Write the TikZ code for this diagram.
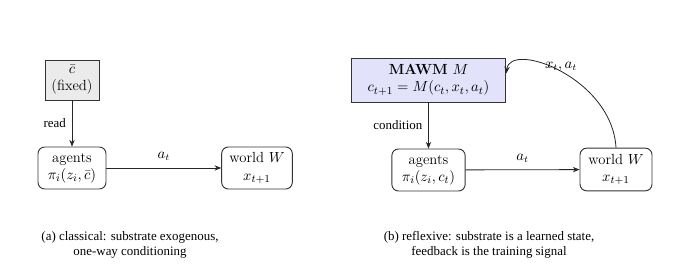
\documentclass[tikz,border=0pt]{standalone}
\usepackage{fontspec}
\newfontfamily\capfont{Liberation Serif}
\usetikzlibrary{arrows.meta}
\definecolor{grayfill}{HTML}{EBEBEB}
\definecolor{lavfill}{HTML}{E2E2FA}
\begin{document}
\begin{tikzpicture}[x=0.75pt,y=-0.75pt,
  box/.style={draw=black!80, line width=0.7pt, align=center, inner sep=1.5pt,
    font=\fontsize{11}{13}\selectfont},
  rbox/.style={box, rounded corners=5pt},
  conn/.style={draw=black!85, line width=0.6pt, -{Stealth[length=5pt,width=4pt]}},
  lab/.style={font=\capfont\fontsize{9.7}{11.3}\selectfont},
  mlab/.style={font=\fontsize{10.5}{12}\selectfont},
  captext/.style={font=\capfont\fontsize{9.7}{11.3}\selectfont, align=center}]
\useasboundingbox (0,0) rectangle (680,277);
% (a)
\node[box, fill=grayfill, minimum width=40.5pt, minimum height=30pt] (cbar) at (72,80) {$\bar c$\\(fixed)};
\node[rbox, minimum width=51pt, minimum height=31.5pt] (agL) at (72,168) {agents\\$\pi_i(z_i,\bar c)$};
\node[rbox, minimum width=53pt, minimum height=31.5pt] (wL) at (257,168) {world $W$\\$x_{t+1}$};
\draw[conn] (cbar) -- node[lab, left=1pt] (readlab) {read} (agL);
\draw[conn] (agL) -- node[mlab, above=2pt] (atL) {$a_t$} (wL);
\node[captext] (capa) at (130,244.5) {(a) classical: substrate exogenous,\\one-way conditioning};
% (b)
\node[box, fill=lavfill, minimum width=116pt, minimum height=33pt] (mawm) at (428.5,80) {\textbf{MAWM} $M$\\$c_{t+1}=M(c_t,x_t,a_t)$};
\node[rbox, minimum width=55pt, minimum height=31.5pt] (agR) at (428.5,170) {agents\\$\pi_i(z_i,c_t)$};
\node[rbox, minimum width=54pt, minimum height=32pt] (wR) at (616,169.5) {world $W$\\$x_{t+1}$};
\draw[conn] (mawm) -- node[lab, left=1pt] (condlab) {condition} (agR);
\draw[conn] (agR) -- node[mlab, above=2pt] (atR) {$a_t$} (wR);
\draw[conn] (wR.north) .. controls +(-4,-70) and +(4,-33) .. ([yshift=5pt]mawm.east);
\node[mlab] (xalab) at (561,67) {$x_t,a_t$};
\node[captext] (capb) at (489,244.5) {(b) reflexive: substrate is a learned state,\\feedback is the training signal};
\end{tikzpicture}
\end{document}
